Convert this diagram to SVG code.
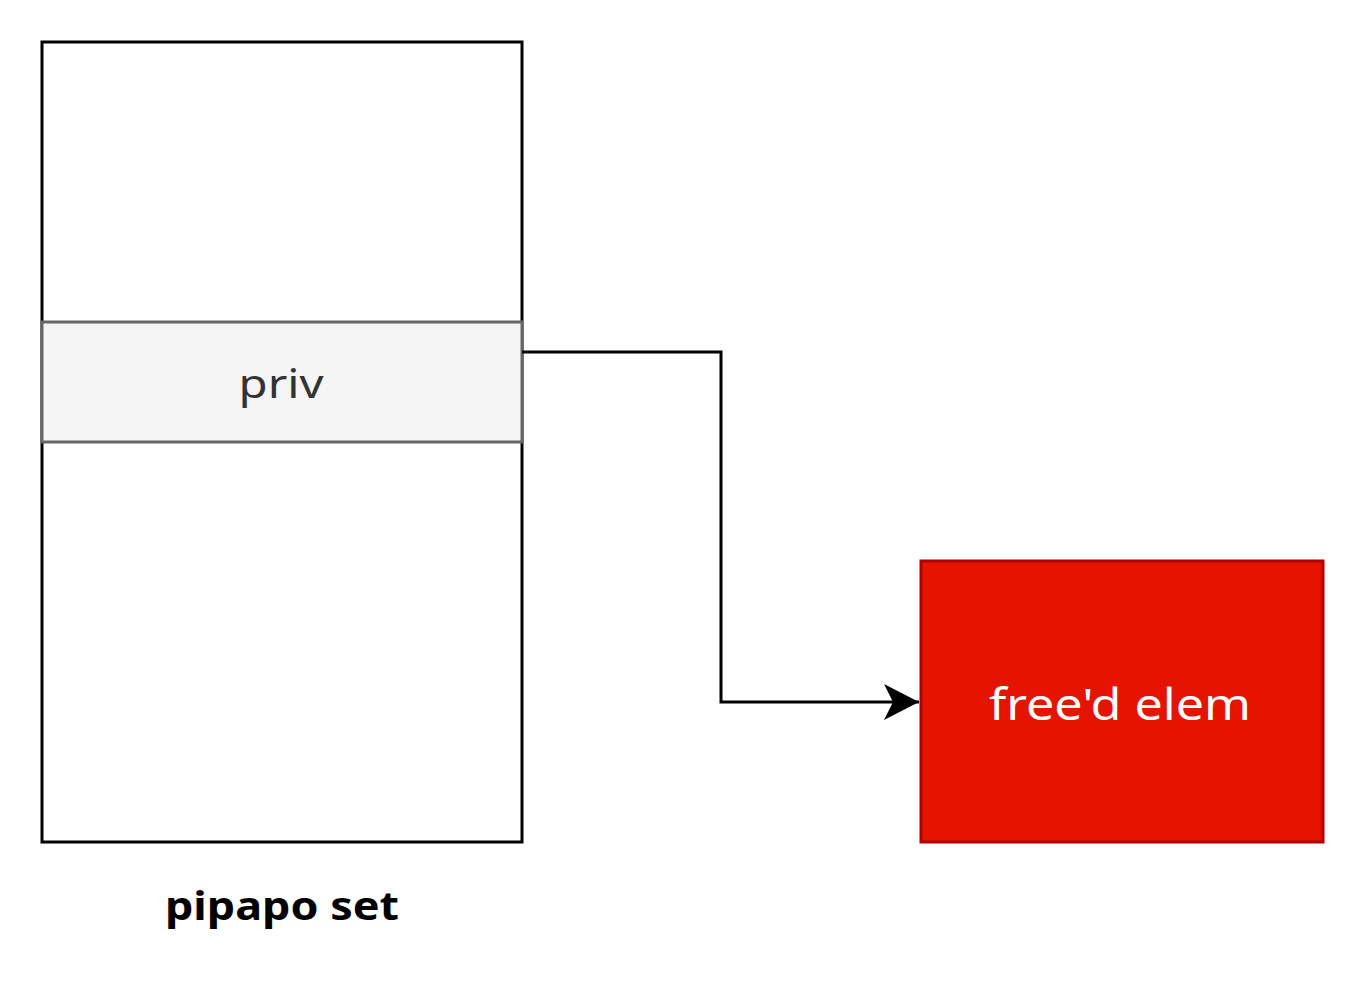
<svg xmlns="http://www.w3.org/2000/svg" width="1364" height="1004" viewBox="0 0 1364 1004">
<style>
text{font-family:"Comic Sans MS","Noto Sans","DejaVu Sans",sans-serif;text-anchor:middle}
.lbl{font-size:40px;fill:#333333}
.red{font-size:44px;fill:#ffffff}
.cap{font-size:40px;font-weight:bold;fill:#000000}
.conn{fill:none;stroke:#000000;stroke-width:3}
</style>
<defs>
<marker id="arrow" markerUnits="userSpaceOnUse" markerWidth="40" markerHeight="40" viewBox="0 0 40 40" refX="36" refY="20" orient="auto">
<path d="M1,2 L36,20 L1,38 L10,20 Z" fill="#000000"/>
</marker>
</defs>
<rect width="1364" height="1004" fill="#ffffff"/>
<g id="pipapo-set">
<rect x="42" y="42" width="480" height="800" fill="#ffffff" stroke="#000000" stroke-width="3"/>
<text class="cap" x="282" y="920" textLength="234" lengthAdjust="spacingAndGlyphs">pipapo set</text>
</g>
<g id="priv">
<rect x="42" y="322" width="480" height="120" fill="#f5f5f5" stroke="#666666" stroke-width="3"/>
<text class="lbl" x="281" y="398" textLength="85" lengthAdjust="spacingAndGlyphs">priv</text>
</g>
<g id="freed-elem">
<rect x="921" y="561" width="402" height="281" fill="#e51400" stroke="#b20000" stroke-width="3"/>
<text class="red" x="1120" y="720" textLength="262" lengthAdjust="spacingAndGlyphs">free'd elem</text>
</g>
<g id="connectors">
<path class="conn" d="M522,352 L721,352 L721,702 L919,702" marker-end="url(#arrow)"/>
</g>
</svg>
